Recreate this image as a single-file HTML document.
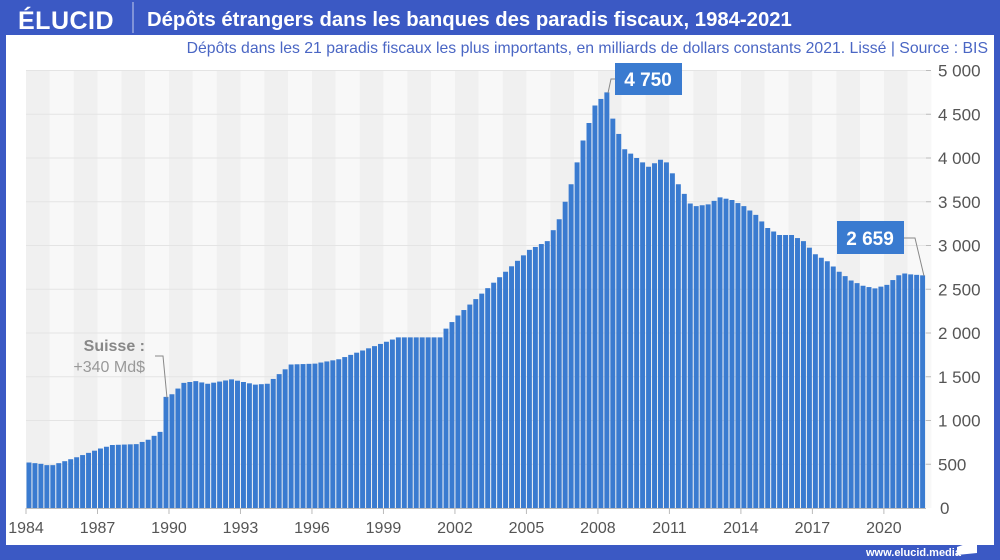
<!DOCTYPE html>
<html><head><meta charset="utf-8"><style>
body{margin:0;width:1000px;height:560px;background:#3b59c4;overflow:hidden;font-family:"Liberation Sans",sans-serif}
svg{position:absolute;left:0;top:0}
</style></head><body>
<svg id="s" width="1000" height="560" xmlns="http://www.w3.org/2000/svg">
<rect x="0" y="0" width="1000" height="560" fill="#3b59c4"/>
<rect x="6" y="35" width="988" height="510" fill="#ffffff"/>
<g id="bands"></g>
<g id="grid"></g>
<g id="bars"></g>
<g id="axis"></g>
<text x="18" y="29" fill="#fff" font-size="25" font-weight="bold" letter-spacing="0.5">ÉLUCID</text>
<line x1="133" y1="2" x2="133" y2="33" stroke="#ffffff" stroke-opacity="0.7" stroke-width="1"/>
<text x="147" y="26" fill="#fff" font-size="20.3" font-weight="bold">Dépôts étrangers dans les banques des paradis fiscaux, 1984-2021</text>
<text x="988" y="53" fill="#4a66c4" font-size="15.8" text-anchor="end">Dépôts dans les 21 paradis fiscaux les plus importants, en milliards de dollars constants 2021. Lissé  |  Source : BIS</text>
<text x="145" y="351" fill="#888" font-size="16" font-weight="bold" text-anchor="end">Suisse :</text>
<text x="145" y="372" fill="#999" font-size="16" text-anchor="end">+340 Md$</text>
<polyline points="155,356 163,356 167,398" fill="none" stroke="#888" stroke-width="1"/>
<polyline points="608,93 611,79 615,79" fill="none" stroke="#888" stroke-width="1"/>
<rect x="615" y="63" width="67" height="32" fill="#3a7bd0"/>
<text x="648" y="86" fill="#fff" font-size="19" font-weight="bold" text-anchor="middle">4 750</text>
<polyline points="904,238 915,238 924,276" fill="none" stroke="#888" stroke-width="1"/>
<rect x="837" y="221" width="67" height="33" fill="#3a7bd0"/>
<text x="870" y="245" fill="#fff" font-size="19" font-weight="bold" text-anchor="middle">2 659</text>
<text x="866" y="556" fill="#fff" font-size="11" font-weight="bold">www.elucid.media</text>
<polygon points="957,547 977,540 977,553 957,555" fill="#fff"/>
</svg>
<script>
var NS="http://www.w3.org/2000/svg";
function el(p,t,a,txt){var e=document.createElementNS(NS,t);for(var k in a)e.setAttribute(k,a[k]);if(txt!=null)e.textContent=txt;document.getElementById(p).appendChild(e);return e;}
var x0=26,py=23.83,y0=508,k=0.0875;
function X(y){return x0+(y-1984)*py;}
for(var yr=1984;yr<2022;yr++){el("bands","rect",{x:X(yr),y:71,width:py,height:437,fill:(yr%2==0)?"#f0f0f0":"#f8f8f8"});}
for(var v=500;v<=5000;v+=500){var yy=y0-v*k;el("grid","line",{x1:26,x2:926,y1:yy,y2:yy,stroke:"#e4e4e4","stroke-width":1});
el("axis","line",{x1:926,x2:931,y1:yy,y2:yy,stroke:"#bbb"});
el("axis","text",{x:938,y:yy+6,"font-size":17,fill:"#555"},String(v).replace(/(\d)(\d{3})$/,"$1 $2"));}
el("axis","text",{x:940,y:514,"font-size":17,fill:"#555"},"0");
var kp=[[1984,520],[1984.5,505],[1984.75,490],[1985,490],[1986,580],[1987,680],[1987.5,720],[1988.5,730],[1989,780],[1989.5,870],[1989.75,1270],[1990,1300],[1990.5,1430],[1991,1450],[1991.5,1420],[1992.5,1470],[1993.5,1410],[1994,1420],[1994.5,1530],[1995,1640],[1996,1650],[1997,1700],[1998,1800],[1999,1900],[1999.5,1950],[2001.25,1950],[2001.5,2050],[2002,2200],[2003,2450],[2004,2700],[2005,2950],[2005.75,3050],[2006.25,3300],[2006.75,3700],[2007.25,4200],[2007.75,4600],[2008.25,4750],[2008.5,4450],[2009,4100],[2009.75,3950],[2010,3900],[2010.5,3980],[2010.75,3950],[2011.25,3700],[2011.75,3480],[2012,3450],[2012.5,3470],[2013,3550],[2013.5,3520],[2014,3450],[2014.5,3350],[2015,3200],[2015.5,3120],[2016,3120],[2016.5,3050],[2017,2900],[2017.5,2820],[2018,2700],[2018.5,2600],[2019,2540],[2019.5,2510],[2020,2550],[2020.5,2660],[2020.75,2680],[2021,2670],[2021.5,2659]];
function val(t){for(var i=0;i<kp.length-1;i++){if(t>=kp[i][0]&&t<=kp[i+1][0]){var f=(t-kp[i][0])/(kp[i+1][0]-kp[i][0]);return kp[i][1]+f*(kp[i+1][1]-kp[i][1]);}}return kp[kp.length-1][1];}
var bw=py/4;
for(var i=0;i<151;i++){var t=1984+i/4;var v=val(t);var h=v*k;el("bars","rect",{x:X(t)+0.5,y:y0-h,width:bw-1,height:h,fill:"#3a7bd0"});}
el("axis","line",{x1:26,x2:926,y1:508.5,y2:508.5,stroke:"#bbb"});
for(var yr=1984;yr<=2020;yr+=3){el("axis","line",{x1:X(yr),x2:X(yr),y1:508,y2:514,stroke:"#bbb"});
el("axis","text",{x:X(yr),y:533,"font-size":16,fill:"#555","text-anchor":"middle"},String(yr));}
</script>
</body></html>
